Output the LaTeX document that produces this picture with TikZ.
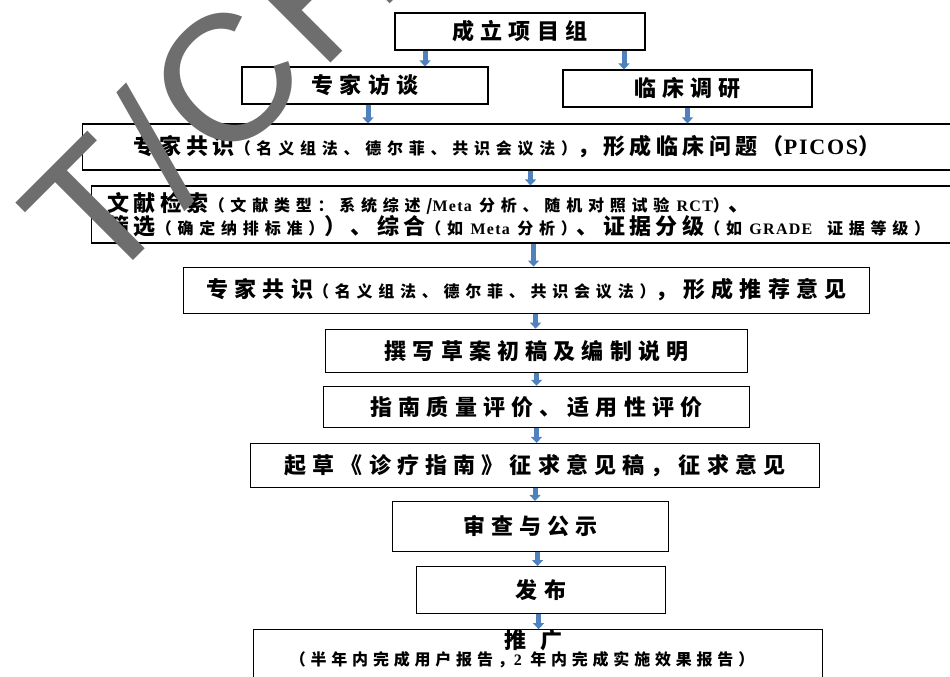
\documentclass[tikz,border=0pt]{standalone}
\usepackage{fontspec}
\setmainfont{Noto Sans CJK SC}
\newfontfamily\latfont{Liberation Serif}[LetterSpace=8]
\newfontfamily\stampfont{Liberation Sans}[LetterSpace=4]
\usetikzlibrary{arrows.meta,positioning}
\definecolor{flowblue}{HTML}{4F81BD}
\definecolor{stampgray}{HTML}{6E6E6E}
\newcommand{\bigcn}{\fontsize{22pt}{23pt}\selectfont\bfseries\addfontfeature{LetterSpace=28}}
\newcommand{\midcn}{\fontsize{22pt}{23pt}\selectfont\bfseries\addfontfeature{LetterSpace=20}}
\newcommand{\smcn}[1]{{\fontsize{16pt}{18pt}\selectfont\addfontfeature{LetterSpace=36}#1}}
\newcommand{\en}[1]{{\latfont\bfseries #1}}

\begin{document}
\begin{tikzpicture}[x=1pt, y=-1pt, thick,
  box/.style = {draw, line width=1.1pt, inner sep=0pt, align=center, font=\bigcn},
  widebox/.style = {box, anchor=west, align=left, font=\midcn},
  flow/.style = {line width=5pt, draw=flowblue, -{Triangle[width=11pt,length=6pt]}},
  stamp/.style = {text=stampgray, font=\stampfont\fontsize{180pt}{180pt}\selectfont, inner sep=0pt}]
\useasboundingbox (0,0) rectangle (950,677);
\node[box, minimum width=250pt, minimum height=37pt] (team) at (520,31.5) {成立项目组};
\node[box, minimum width=246pt, minimum height=37pt] (expert) at (365,85.5) {专家访谈};
\node[box, minimum width=249pt, minimum height=37pt] (clinic) at (687.5,88.5) {临床调研};
\node[widebox, minimum height=46pt, text width=774pt, inner xsep=51pt] (pico) at (82,147)
  {\mbox{专家共识\smcn{（名义组法、德尔菲、共识会议法）}，形成临床问题（\en{PICOS}）}};
\node[widebox, minimum height=57pt, text width=835pt, inner xsep=16pt] (search) at (91,214.5)
  {\mbox{文献检索\smcn{（文献类型：系统综述/\en{Meta} 分析、随机对照试验 \en{RCT}）}、}\\
   \mbox{筛选\smcn{（确定纳排标准）}）、综合\smcn{（如 \en{Meta} 分析）}、证据分级\smcn{（如 \en{GRADE} \ 证据等级）}}};
\node[box, minimum width=686pt, minimum height=46pt] (advice) [below=23pt of search, xshift=1.5pt]
  {专家共识\smcn{（名义组法、德尔菲、共识会议法）}，形成推荐意见};
\node[box, minimum width=422pt, minimum height=43pt] (draft) [below=15pt of advice, xshift=10pt] {撰写草案初稿及编制说明};
\node[box, minimum width=426pt, minimum height=41pt] (quality) [below=13pt of draft] {指南质量评价、适用性评价};
\node[box, minimum width=569pt, minimum height=44pt] (consult) [below=15pt of quality, xshift=-1.5pt] {起草《诊疗指南》征求意见稿，征求意见};
\node[box, minimum width=276pt, minimum height=50pt] (review) [below=13pt of consult, xshift=-4.5pt] {审查与公示};
\node[box, minimum width=249pt, minimum height=47pt] (publish) [below=14pt of review, xshift=10.5pt] {发布};
\node[box, minimum width=569pt, inner ysep=0pt, text depth=42pt] (promote) [below=15pt of publish, xshift=-3pt]
  {推\hspace{14pt}广\hspace*{10pt}\\[-6pt]
   \smcn{\addfontfeature{LetterSpace=30}（半年内完成用户报告，\en{2} 年内完成实施效果报告）}\hspace*{32pt}};
\draw[flow] ([xshift=-95pt]team.south) -- ([xshift=-95pt]team.south |- expert.north);
\draw[flow] ([xshift=104pt]team.south) -- ([xshift=104pt]team.south |- clinic.north);
\draw[flow] ([xshift=3pt]expert.south) -- ([xshift=3pt]expert.south |- pico.north);
\draw[flow] (clinic.south) -- (clinic.south |- pico.north);
\draw[flow] ([xshift=10pt]pico.south) -- ([xshift=10pt]pico.south |- search.north);
\draw[flow] ([xshift=8.5pt]search.south) -- ([xshift=8.5pt]search.south |- advice.north);
\draw[flow] ([xshift=9pt]advice.south) -- ([xshift=9pt]advice.south |- draft.north);
\draw[flow] (draft.south) -- (quality.north);
\draw[flow] (quality.south) -- (quality.south |- consult.north);
\draw[flow] (consult.south) -- (consult.south |- review.north);
\draw[flow] ([xshift=7pt]review.south) -- ([xshift=7pt]review.south |- publish.north);
\draw[flow] ([xshift=-2.5pt]publish.south) -- ([xshift=-2.5pt]publish.south |- promote.north);
% watermark
\node[stamp, rotate=45, anchor=base west] (wm) at (100,294) {T/CH};
\end{tikzpicture}
\end{document}
